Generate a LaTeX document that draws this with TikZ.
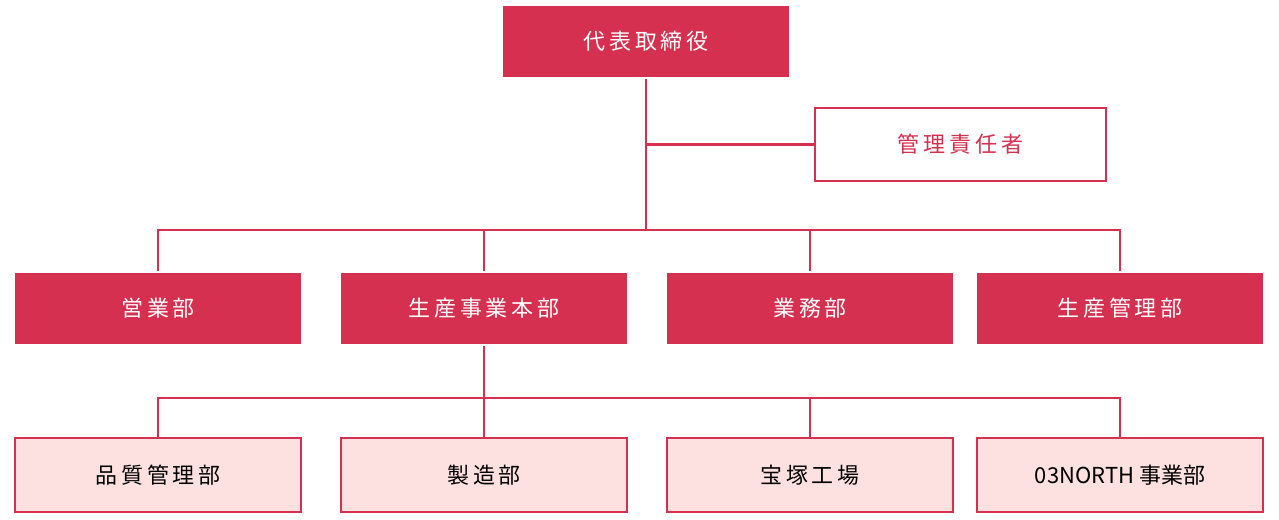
\documentclass[tikz,border=0pt]{standalone}
\usepackage{fontspec}
\newfontfamily\cjk[LetterSpace=18]{Noto Sans CJK JP}
\newfontfamily\cjkn{Noto Sans CJK JP}
\definecolor{crimson}{HTML}{D63050}
\definecolor{blush}{HTML}{FDE0E0}
\usetikzlibrary{positioning}

\begin{document}
\begin{tikzpicture}[
    x = 0.02cm, y = -0.02cm, % pixel grid
    line width = 1.2pt,
    every node/.style = {font=\cjk\fontsize{12.5}{14}\selectfont},
    head/.style = {fill=crimson, text=white, minimum width=5.72cm, minimum height=1.44cm},
    staff/.style = {draw=crimson, fill=white, text=crimson, minimum width=5.82cm, minimum height=1.46cm},
    unit/.style = {draw=crimson, fill=blush, text=black, minimum width=5.72cm, minimum height=1.48cm}
    ]
\useasboundingbox (0,0) rectangle (1279,520);

    \node[head] (ceo) at (646,41.5) {代表取締役};
    \node[staff] (mgr) at (960.5,144.5) {管理責任者};
    \node[head] (sales) at (158,308.5) {営業部};
    \node[head] (prod) at (484,308.5) {生産事業本部};
    \node[head] (biz) at (810,308.5) {業務部};
    \node[head] (ctrl) at (1120,308.5) {生産管理部};
    \node[unit] (qa) at (158,475) {品質管理部};
    \node[unit] (mfg) at (484,475) {製造部};
    \node[unit] (tz) at (810,475) {宝塚工場};
    \node[unit] (north) at (1120,475) {\cjkn 03NORTH 事業部};

    \coordinate (hub) at (646,230);
    \coordinate (sub) at (484,398);

    \begin{scope}[crimson]
    \draw (ceo) -- (hub);
    \draw (mgr.west) -- (mgr.west -| ceo);
    \foreach \n in {sales,prod,biz,ctrl}
        \draw (hub) -| (\n);
    \draw (prod) -- (sub);
    \foreach \n in {qa,mfg,tz,north}
        \draw (sub) -| (\n);
    \end{scope}
\end{tikzpicture}
\end{document}
